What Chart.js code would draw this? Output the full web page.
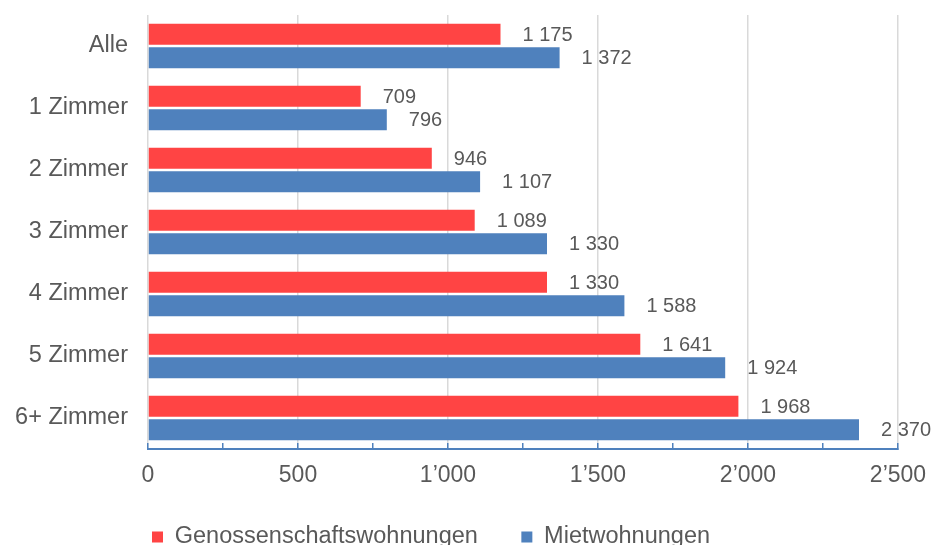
<!DOCTYPE html>
<html lang="de">
<head>
<meta charset="utf-8">
<title>Mietpreise nach Zimmerzahl</title>
<script src="https://cdn.jsdelivr.net/npm/chart.js@4.4.1/dist/chart.umd.min.js"></script>
<style>
    html, body { margin: 0; padding: 0; background: #ffffff; }
    #wrap { width: 935px; height: 545px; position: relative; }
</style>
</head>
<body>
<div id="wrap"><canvas id="chart"></canvas></div>
<script>
// Daten
const categories = ['Alle', '1 Zimmer', '2 Zimmer', '3 Zimmer', '4 Zimmer', '5 Zimmer', '6+ Zimmer'];
const genossenschaft = [1175, 709, 946, 1089, 1330, 1641, 1968];
const miete = [1372, 796, 1107, 1330, 1588, 1924, 2370];
const seriesNames = ['Genossenschaftswohnungen', 'Mietwohnungen'];
const axisMin = 0;
const axisMax = 2500;

const red = '#ff4444';
const blue = '#4f81bd';
const textColor = '#595959';

Chart.defaults.font.family = '"Liberation Sans", Arial, sans-serif';
Chart.defaults.color = textColor;

// 1175 -> "1 175"
function spaced(v) {
    return String(v).replace(/\B(?=(\d{3})+(?!\d))/g, ' ');
}
// 1000 -> "1’000"
function apostrophed(v) {
    return String(v).replace(/\B(?=(\d{3})+(?!\d))/g, '\u2019');
}

// Werte rechts neben den Balken
const valueLabels = {
    id: 'valueLabels',
    afterDatasetsDraw(chart) {
        const ctx = chart.ctx;
        ctx.save();
        ctx.font = '20px "Liberation Sans", Arial, sans-serif';
        ctx.fillStyle = textColor;
        ctx.textAlign = 'left';
        ctx.textBaseline = 'middle';
        chart.data.datasets.forEach((ds, i) => {
            chart.getDatasetMeta(i).data.forEach((bar, j) => {
                ctx.fillText(spaced(ds.data[j]), bar.x + 22, bar.y + 1);
            });
        });
        ctx.restore();
    }
};

// Achsenbeschriftungen nicht abschneiden (Legende braucht linken Rand)
const unclipLabels = {
    id: 'unclipLabels',
    afterLayout(chart) {
        chart.scales.y.left = 0;
        chart.scales.x.bottom = chart.height;
    }
};

const ctx = document.getElementById('chart').getContext('2d');
new Chart(ctx, {
    type: 'bar',
    data: {
        labels: categories,
        datasets: [{
            label: seriesNames[0],
            data: genossenschaft,
            backgroundColor: red,
            categoryPercentage: 0.757,
            barPercentage: 0.9
        }, {
            label: seriesNames[1],
            data: miete,
            backgroundColor: blue,
            categoryPercentage: 0.757,
            barPercentage: 0.9
        }]
    },
    options: {
        indexAxis: 'y',
        responsive: true,
        maintainAspectRatio: false,
        animation: false,
        layout: {
            padding: { top: 15, right: 37, left: 108.5, bottom: -13.75 }
        },
        scales: {
            x: {
                min: axisMin,
                max: axisMax,
                ticks: {
                    stepSize: 250,
                    padding: 19,
                    font: { size: 23 },
                    color: textColor,
                    maxRotation: 0,
                    callback: v => (v % 500 === 0 ? apostrophed(v) : '')
                },
                grid: {
                    color: c => (c.tick && c.tick.value % 500 === 0 ? '#d9d9d9' : 'rgba(0,0,0,0)'),
                    lineWidth: 1.5,
                    tickColor: blue,
                    tickLength: -6,
                    tickWidth: 1.5
                },
                border: { color: blue, width: 2 },
                afterFit: s => {
                    s.height = 32.75;
                    s.paddingLeft = 0;
                    s.paddingRight = 0;
                }
            },
            y: {
                ticks: {
                    padding: 20,
                    font: { size: 23.5 },
                    color: textColor
                },
                grid: { display: false, drawTicks: false },
                border: { display: false },
                afterFit: s => {
                    s.width = 39.5;
                    s.paddingTop = 0;
                    s.paddingBottom = 0;
                }
            }
        },
        plugins: {
            legend: {
                position: 'bottom',
                align: 'start',
                labels: {
                    boxWidth: 11,
                    boxHeight: 11,
                    padding: 43.5,
                    font: { size: 23.5 },
                    color: textColor
                }
            },
            tooltip: { enabled: false }
        }
    },
    plugins: [valueLabels, unclipLabels]
});
</script>
</body>
</html>
